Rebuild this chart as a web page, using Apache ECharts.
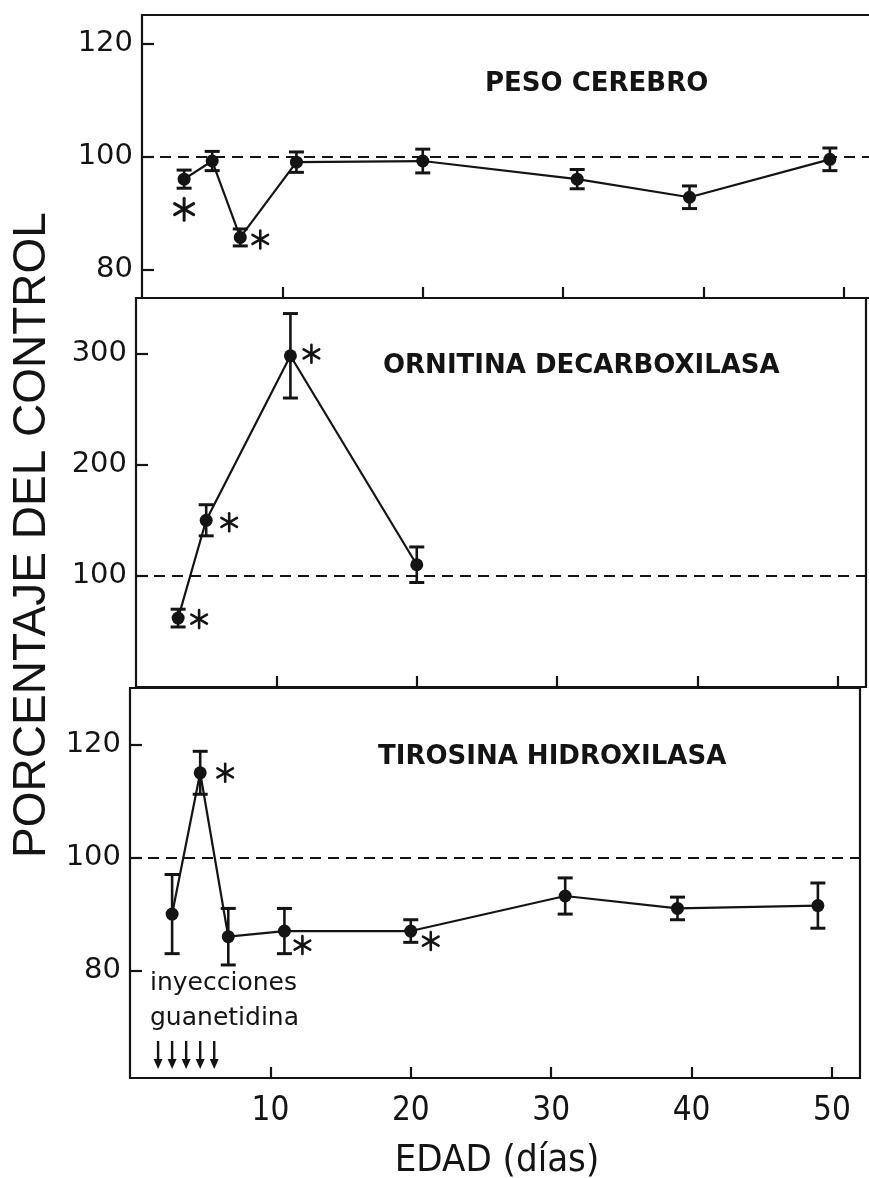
<!DOCTYPE html>
<html>
<head>
<meta charset="utf-8">
<script src="https://cdn.jsdelivr.net/npm/echarts@6/dist/echarts.min.js"></script>
<style>
  html, body { margin: 0; padding: 0; background: #ffffff; }
  #chart { width: 869px; height: 1178px; }
</style>
</head>
<body>
<div id="chart"></div>
<script>
// ---------------- DATA ----------------
const xTickValues = [10, 20, 30, 40, 50];

// PESO CEREBRO
const pesoDays   = [3, 5, 7, 11, 20, 31, 39, 49];
const pesoValues = [96.0, 99.2, 85.7, 99.0, 99.2, 96.0, 92.8, 99.5];
const pesoErrors = [1.6, 1.7, 1.5, 1.8, 2.1, 1.7, 2.0, 2.0];
const pesoSignificant = [0, 2];
const pesoTicks = [80, 100, 120];

// ORNITINA DECARBOXILASA
const ornDays   = [3, 5, 11, 20];
const ornValues = [62, 150, 298, 110];
const ornErrors = [8, 14, 38, 16];
const ornSignificant = [0, 1, 2];
const ornTicks = [100, 200, 300];

// TIROSINA HIDROXILASA
const tirDays   = [3, 5, 7, 11, 20, 31, 39, 49];
const tirValues = [90.0, 115.0, 86.0, 87.0, 87.0, 93.2, 91.0, 91.5];
const tirErrors = [7.0, 3.8, 5.0, 4.0, 2.0, 3.2, 2.0, 4.0];
const tirSignificant = [1, 3, 4];
const tirTicks = [80, 100, 120];

// guanethidine injection days
const injectionDays = [2, 3, 4, 5, 6];

const controlLevel = 100;

// ---------------- STYLE / LAYOUT ----------------
const INK = '#141414';
const grids = [
  { left: 142, top: 15,  width: 730, height: 283 },
  { left: 136, top: 298, width: 730, height: 389 },
  { left: 130, top: 688, width: 730, height: 390 }
];
const yRanges = [[75, 125], [0, 350], [61, 130]];
// asterisk placement per panel (pixel offsets from the point, arm radius, stroke)
const starPlacement = [
  { 0: [0, 30, 11, 3.0], 2: [20, 2, 9, 2.6] },
  { 0: [21, 1, 9, 2.6], 1: [23, 2, 9, 2.6], 2: [21, -2, 9, 2.6] },
  { 1: [25, 0, 9, 2.6], 3: [18, 14, 9, 2.6], 4: [20, 10, 9, 2.6] }
];

function errRender(params, api) {
  const x = api.value(0), y = api.value(1), e = api.value(2);
  const hi = api.coord([x, y + e]);
  const lo = api.coord([x, y - e]);
  const w = 7.5;
  return {
    type: 'group',
    children: [
      { type: 'line', shape: { x1: hi[0], y1: hi[1], x2: lo[0], y2: lo[1] }, style: { stroke: INK, lineWidth: 2.6 } },
      { type: 'line', shape: { x1: hi[0] - w, y1: hi[1], x2: hi[0] + w, y2: hi[1] }, style: { stroke: INK, lineWidth: 3 } },
      { type: 'line', shape: { x1: lo[0] - w, y1: lo[1], x2: lo[0] + w, y2: lo[1] }, style: { stroke: INK, lineWidth: 3 } }
    ]
  };
}

function makeStarRender(panel) {
  return function (params, api) {
    const idx = api.value(2);
    const pl = starPlacement[panel][idx];
    const p = api.coord([api.value(0), api.value(1)]);
    const cx = p[0] + pl[0], cy = p[1] + pl[1], r = pl[2];
    const children = [];
    [90, 30, 150].forEach(function (deg) {
      const a = deg * Math.PI / 180;
      const dx = Math.cos(a) * r, dy = Math.sin(a) * r;
      children.push({ type: 'line', shape: { x1: cx - dx, y1: cy - dy, x2: cx + dx, y2: cy + dy },
        style: { stroke: INK, lineWidth: pl[3], lineCap: 'round' } });
    });
    return { type: 'group', children: children };
  };
}

function arrowRender(params, api) {
  const x = api.coord([api.value(0), yRanges[2][0]])[0];
  const cs = params.coordSys;
  const bottom = cs.y + cs.height;
  const yTop = bottom - 37, yTip = bottom - 9;
  return {
    type: 'group',
    children: [
      { type: 'line', shape: { x1: x, y1: yTop, x2: x, y2: yTip - 8 }, style: { stroke: INK, lineWidth: 2.4 } },
      { type: 'polygon', shape: { points: [[x - 4.5, yTip - 10], [x + 4.5, yTip - 10], [x, yTip]] }, style: { fill: INK } }
    ]
  };
}

const panels = [
  { days: pesoDays, vals: pesoValues, errs: pesoErrors, sig: pesoSignificant, ticks: pesoTicks },
  { days: ornDays,  vals: ornValues,  errs: ornErrors,  sig: ornSignificant,  ticks: ornTicks },
  { days: tirDays,  vals: tirValues,  errs: tirErrors,  sig: tirSignificant,  ticks: tirTicks }
];

const xAxes = [], yAxes = [], series = [];
panels.forEach(function (pn, k) {
  xAxes.push({
    type: 'value', gridIndex: k, min: 0, max: 52,
    axisLine: { show: false },
    splitLine: { show: false },
    axisTick: { show: true, inside: true, length: 11, customValues: xTickValues, lineStyle: { color: INK, width: 2.2 } },
    axisLabel: {
      show: k === 2, customValues: xTickValues, margin: 17,
      fontFamily: "'Liberation Sans Narrow', 'DejaVu Sans Condensed', sans-serif",
      fontSize: 33, color: INK
    }
  });
  yAxes.push({
    type: 'value', gridIndex: k, min: yRanges[k][0], max: yRanges[k][1],
    axisLine: { show: false },
    splitLine: { show: false },
    axisTick: { show: true, inside: true, length: 12, customValues: pn.ticks, lineStyle: { color: INK, width: 2.2 } },
    axisLabel: {
      customValues: pn.ticks, margin: 9,
      fontFamily: "'DejaVu Sans', sans-serif", fontSize: 29, color: INK
    }
  });
  const pts = pn.days.map(function (d, i) { return [d, pn.vals[i]]; });
  series.push({
    type: 'line', xAxisIndex: k, yAxisIndex: k, data: pts,
    symbol: 'circle', symbolSize: 13, z: 5,
    itemStyle: { color: INK },
    lineStyle: { color: INK, width: 2.2 },
    silent: true,
    markLine: {
      silent: true, symbol: ['none', 'none'], label: { show: false },
      lineStyle: { color: INK, width: 2, type: [11, 7] },
      data: [{ yAxis: controlLevel }]
    }
  });
  series.push({
    type: 'custom', xAxisIndex: k, yAxisIndex: k, z: 4, silent: true,
    renderItem: errRender,
    data: pn.days.map(function (d, i) { return [d, pn.vals[i], pn.errs[i]]; })
  });
  series.push({
    type: 'custom', xAxisIndex: k, yAxisIndex: k, z: 6, silent: true,
    renderItem: makeStarRender(k),
    data: pn.sig.map(function (i) { return [pn.days[i], pn.vals[i], i]; })
  });
});
series.push({
  type: 'custom', xAxisIndex: 2, yAxisIndex: 2, z: 6, silent: true,
  renderItem: arrowRender,
  data: injectionDays.map(function (d) { return [d]; })
});

const titleFont = "'DejaVu Sans', sans-serif";
const option = {
  backgroundColor: '#ffffff',
  animation: false,
  grid: grids.map(function (g) {
    return Object.assign({ show: true, borderColor: INK, borderWidth: 2.2, backgroundColor: 'transparent',
      containLabel: false, outerBoundsMode: 'none' }, g);
  }),
  xAxis: xAxes,
  yAxis: yAxes,
  series: series,
  graphic: [
    { type: 'text', x: 485, y: 84, style: { text: 'PESO CEREBRO', fill: INK, font: "bold 26px " + titleFont, align: 'left', verticalAlign: 'middle' } },
    { type: 'text', x: 383, y: 366, style: { text: 'ORNITINA DECARBOXILASA', fill: INK, font: "bold 26px " + titleFont, align: 'left', verticalAlign: 'middle' } },
    { type: 'text', x: 378, y: 757, style: { text: 'TIROSINA HIDROXILASA', fill: INK, font: "bold 26px " + titleFont, align: 'left', verticalAlign: 'middle' } },
    { type: 'text', x: 150, y: 983, style: { text: 'inyecciones', fill: INK, font: "25px 'DejaVu Sans', sans-serif", align: 'left', verticalAlign: 'middle' } },
    { type: 'text', x: 150, y: 1018, style: { text: 'guanetidina', fill: INK, font: "25px 'DejaVu Sans', sans-serif", align: 'left', verticalAlign: 'middle' } },
    { type: 'text', x: 32, y: 535, rotation: Math.PI / 2, style: { text: 'PORCENTAJE DEL CONTROL', fill: INK, font: "46px 'Liberation Sans', sans-serif", align: 'center', verticalAlign: 'middle' } },
    { type: 'text', x: 497, y: 1161, style: { text: 'EDAD (días)', fill: INK, font: "38px 'Liberation Sans Narrow', 'DejaVu Sans Condensed', sans-serif", align: 'center', verticalAlign: 'middle' } }
  ]
};

const chart = echarts.init(document.getElementById('chart'), null, { renderer: 'canvas' });
chart.setOption(option);
</script>
</body>
</html>
